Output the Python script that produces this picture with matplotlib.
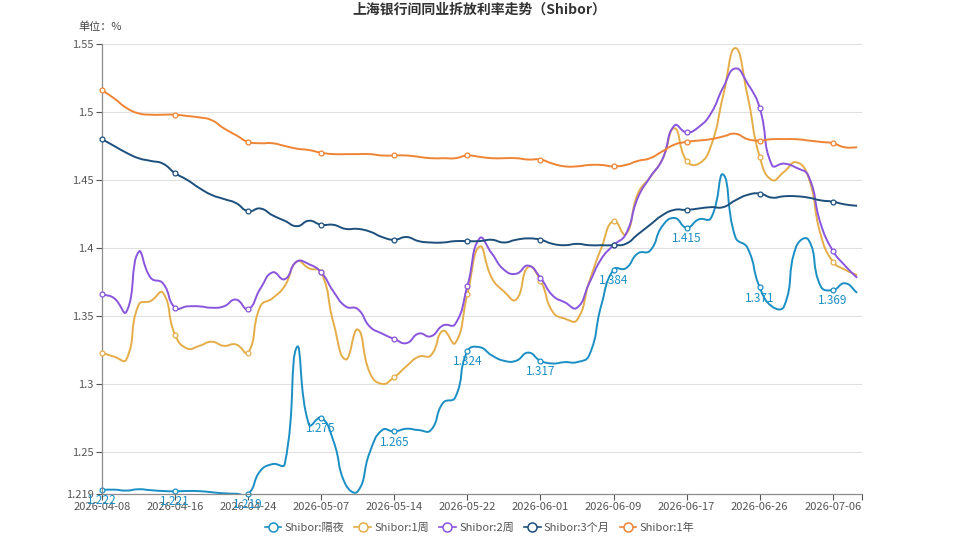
import numpy as np
import matplotlib
matplotlib.use('Agg')
import matplotlib.pyplot as plt
from matplotlib.path import Path
from matplotlib.patches import PathPatch
from matplotlib.lines import Line2D

plt.rcParams['font.family'] = ['Noto Sans CJK SC', 'DejaVu Sans']

# tick labels (every 6th trading day)
date_labels = ['2026-04-08', '2026-04-16', '2026-04-24', '2026-05-07', '2026-05-14',
               '2026-05-22', '2026-06-01', '2026-06-09', '2026-06-17', '2026-06-26',
               '2026-07-06']

overnight = [1.222, 1.2222, 1.2215, 1.2225, 1.2218, 1.2212, 1.221, 1.2212, 1.2211, 1.2203,
             1.2195, 1.2192, 1.219, 1.236, 1.241, 1.241, 1.327, 1.270, 1.275, 1.258,
             1.226, 1.221, 1.250, 1.266, 1.265, 1.267, 1.266, 1.266, 1.286, 1.290,
             1.324, 1.327, 1.321, 1.317, 1.317, 1.323, 1.317, 1.315, 1.316, 1.316,
             1.321, 1.358, 1.384, 1.385, 1.396, 1.398, 1.416, 1.422, 1.415, 1.421,
             1.422, 1.454, 1.408, 1.400, 1.371, 1.357, 1.357, 1.401, 1.406, 1.372,
             1.369, 1.374, 1.367]
week1 = [1.323, 1.320, 1.318, 1.358, 1.361, 1.367, 1.336, 1.326, 1.328, 1.331,
         1.328, 1.329, 1.323, 1.357, 1.363, 1.372, 1.390, 1.385, 1.382, 1.345,
         1.318, 1.340, 1.308, 1.300, 1.305, 1.313, 1.320, 1.321, 1.339, 1.330,
         1.366, 1.401, 1.378, 1.368, 1.362, 1.386, 1.376, 1.353, 1.348, 1.347,
         1.375, 1.400, 1.420, 1.410, 1.440, 1.452, 1.465, 1.488, 1.464, 1.462,
         1.475, 1.512, 1.547, 1.512, 1.467, 1.450, 1.456, 1.463, 1.452, 1.410,
         1.390, 1.384, 1.380]
week2 = [1.366, 1.363, 1.353, 1.397, 1.378, 1.374, 1.356, 1.357, 1.357, 1.356,
         1.357, 1.362, 1.355, 1.370, 1.382, 1.377, 1.390, 1.388, 1.382, 1.368,
         1.357, 1.355, 1.342, 1.337, 1.333, 1.330, 1.337, 1.335, 1.343, 1.344,
         1.372, 1.407, 1.396, 1.384, 1.381, 1.387, 1.378, 1.365, 1.360, 1.356,
         1.374, 1.392, 1.402, 1.410, 1.437, 1.452, 1.465, 1.490, 1.485, 1.489,
         1.499, 1.518, 1.532, 1.521, 1.503, 1.461, 1.462, 1.459, 1.453, 1.418,
         1.398, 1.387, 1.378]
month3 = [1.480, 1.475, 1.470, 1.466, 1.464, 1.462, 1.455, 1.450, 1.444, 1.439,
          1.436, 1.433, 1.427, 1.429, 1.424, 1.420, 1.416, 1.420, 1.417, 1.417,
          1.414, 1.414, 1.412, 1.408, 1.406, 1.408, 1.405, 1.404, 1.404, 1.405,
          1.405, 1.405, 1.406, 1.404, 1.406, 1.407, 1.406, 1.403, 1.402, 1.403,
          1.402, 1.402, 1.402, 1.403, 1.410, 1.417, 1.424, 1.428, 1.428, 1.429,
          1.430, 1.430, 1.435, 1.439, 1.440, 1.437, 1.438, 1.438, 1.437, 1.435,
          1.434, 1.432, 1.431]
year1 = [1.516, 1.510, 1.503, 1.499, 1.498, 1.498, 1.498, 1.497, 1.496, 1.494,
         1.488, 1.483, 1.478, 1.477, 1.477, 1.475, 1.473, 1.472, 1.470, 1.469,
         1.469, 1.469, 1.469, 1.468, 1.468, 1.468, 1.467, 1.466, 1.466, 1.466,
         1.468, 1.467, 1.466, 1.466, 1.466, 1.465, 1.465, 1.462, 1.460, 1.460,
         1.461, 1.461, 1.460, 1.461, 1.464, 1.466, 1.471, 1.476, 1.478, 1.479,
         1.480, 1.482, 1.484, 1.480, 1.479, 1.480, 1.480, 1.480, 1.479, 1.478,
         1.477, 1.474, 1.474]

series = [
    ('Shibor:隔夜', overnight, '#1a8fc4'),
    ('Shibor:1周', week1, '#e5ad48'),
    ('Shibor:2周', week2, '#8a55dd'),
    ('Shibor:3个月', month3, '#1d4f7c'),
    ('Shibor:1年', year1, '#ee8434'),
]


def smooth_path(ax, xs, ys, smooth=0.5):
    # echarts-like bezier smoothing, computed in pixel space
    pts = ax.transData.transform(np.column_stack([xs, ys]))
    n = len(pts)
    cin = np.zeros_like(pts)
    cout = np.zeros_like(pts)
    for i in range(n):
        p = pts[i]
        prev = pts[i - 1] if i > 0 else p
        nxt = pts[i + 1] if i < n - 1 else p
        v = nxt - prev
        l0 = np.hypot(*(p - prev))
        l1 = np.hypot(*(nxt - p))
        r = l1 / (l0 + l1) if (l0 + l1) > 0 else 0.5
        cout[i] = p + v * smooth * r
        cin[i] = p - v * smooth * (1 - r)
    verts = [pts[0]]
    codes = [Path.MOVETO]
    for i in range(n - 1):
        verts += [cout[i], cin[i + 1], pts[i + 1]]
        codes += [Path.CURVE4] * 3
    verts = ax.transData.inverted().transform(np.array(verts))
    return Path(verts, codes)


fig = plt.figure(figsize=(9.59, 5.39), dpi=100)
ax = fig.add_axes([102 / 959, 1 - 494 / 539, 760 / 959, 450 / 539])
n = len(overnight)
xs = np.arange(n)
ax.set_xlim(0, 62.4)
ax.set_ylim(1.219, 1.55)

yticks = [1.219, 1.25, 1.3, 1.35, 1.4, 1.45, 1.5, 1.55]
ax.set_yticks(yticks)
ax.set_yticklabels(['1.219', '1.25', '1.3', '1.35', '1.4', '1.45', '1.5', '1.55'])
for yv in yticks[1:]:
    ax.axhline(yv, color='#e0e0e0', lw=0.8, zorder=0)

tick_idx = list(range(0, 61, 6))
ax.set_xticks(tick_idx + [62.4])
ax.set_xticklabels(date_labels + [''])
ax.tick_params(axis='both', labelsize=8, colors='#555555', length=4, width=0.8)
ax.tick_params(axis='x', pad=2)
ax.tick_params(axis='y', pad=2)
for s in ['top', 'right']:
    ax.spines[s].set_visible(False)
for s in ['left', 'bottom']:
    ax.spines[s].set_color('#8c8c8c')
    ax.spines[s].set_linewidth(0.9)

handles = []
for k, (name, vals, c) in enumerate(series):
    path = smooth_path(ax, xs, vals)
    ax.add_patch(PathPatch(path, fill=False, edgecolor=c, lw=1.4, zorder=2 + k))
    mx = tick_idx
    my = [vals[i] for i in mx]
    ax.plot(mx, my, 'o', ms=3.5, mfc='white', mec=c, mew=0.9, zorder=2.5 + k, clip_on=False)
    if k == 0:
        for i in mx:
            ax.annotate('%.3f' % vals[i], (i, vals[i]), xytext=(0, -3), textcoords='offset points',
                        ha='center', va='top', color=c, fontsize=8.5, zorder=10,
                        annotation_clip=False)
    handles.append(Line2D([], [], color=c, lw=1.2, marker='o', ms=6.5, mfc='white', mec=c,
                          mew=1.1, label=name))

ax.set_xlim(0, 62.4)
ax.set_ylim(1.219, 1.55)

fig.text(0.5, 1 - 10 / 539, '上海银行间同业拆放利率走势（Shibor）', ha='center', va='center',
         fontsize=10, fontweight='bold', color='#333333')
fig.text(78 / 959, 1 - 27 / 539, '单位：%', ha='left', va='center', fontsize=8, color='#444444')

fig.legend(handles=handles, loc='center', bbox_to_anchor=(0.5, 1 - 528 / 539), ncol=5,
           frameon=False, fontsize=8, handlelength=1.5, handletextpad=0.3, columnspacing=0.9,
           labelcolor='#555555')

fig.savefig('out.png', dpi=100)
